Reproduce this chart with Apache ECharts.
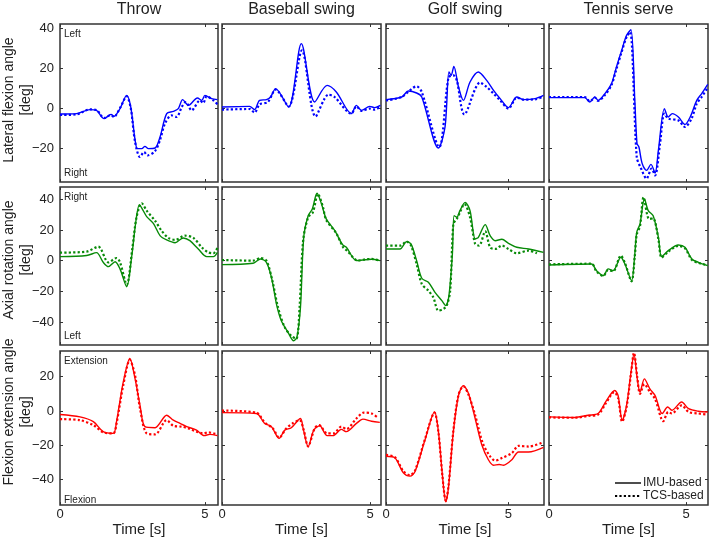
<!DOCTYPE html>
<html><head><meta charset="utf-8">
<script src="https://cdn.jsdelivr.net/npm/echarts@6/dist/echarts.min.js"></script>
<style>html,body{margin:0;padding:0;background:#fff}#c{width:709px;height:538px}</style>
</head><body><div id="c"></div>
<script>
const colTitles = ['Throw','Baseball swing','Golf swing','Tennis serve'];
const rowNames = ['Lateral flexion angle','Axial rotation angle','Flexion extension angle'];
const rowTopNote = ['Left','Right','Extension'];
const rowBottomNote = ['Right','Left','Flexion'];
const legendNames = ['IMU-based','TCS-based'];
const xMax = [5.45,5.37,6.45,5.8];
const yMin = [-37,-55,-55];
const yMax = [42,48,35];
const yTicks = [[-20,0,20,40],[-40,-20,0,20,40],[-40,-20,0,20]];
const xTicks = [0,5];
const rowColors = ['#0000ff','#078a07','#ff0000'];

// Row 1: lateral flexion
const throwLatIMU = [[0,-3],[0.57,-2.8],[1.03,-0.8],[1.26,-1.2],[1.52,-5.3],[1.76,-3.2],[1.86,-4.2],[2.07,-0.3],[2.30,6.3],[2.44,0.5],[2.59,-16],[2.67,-20.3],[2.82,-20.3],[2.93,-19.2],[3.05,-20.3],[3.28,-20],[3.45,-14.5],[3.68,-2.8],[3.91,-1.7],[4.08,-0.3],[4.23,4.2],[4.43,1.3],[4.74,5],[4.89,3.8],[5.0,6.3],[5.23,4.7],[5.43,4.2]];
const throwLatTCS = [[0,-3.5],[0.57,-3.2],[1.03,-0.7],[1.26,-1],[1.52,-5],[1.76,-3.5],[1.86,-4.5],[2.07,0],[2.30,5.8],[2.44,0],[2.59,-17],[2.76,-24.5],[2.9,-22],[3.02,-23.7],[3.28,-21.5],[3.45,-16],[3.62,-7.8],[3.85,-3.7],[4.02,-4.5],[4.2,0.5],[4.34,3],[4.54,-1.2],[4.83,3.8],[4.94,2.5],[5.06,5.8],[5.29,3.8],[5.43,1.8]];
const baseLatIMU = [[0,0.5],[0.93,0.8],[1.1,-0.8],[1.27,3.8],[1.5,4.2],[1.64,5.5],[1.81,9.7],[2.25,0.5],[2.68,32.2],[3.13,3],[3.55,11.3],[3.86,8],[4.37,-2.8],[4.54,1.3],[4.71,-1.2],[4.99,0.8],[5.16,0.2],[5.35,1.3]];
const baseLatTCS = [[0,-0.8],[0.93,-0.5],[1.1,-2.3],[1.27,1.8],[1.55,3],[1.81,9.2],[2.25,0.8],[2.7,28.8],[3.16,-4.2],[3.6,6.7],[3.8,5.5],[4.37,-2.8],[4.54,0.8],[4.71,-1.5],[4.99,-0.3],[5.16,-0.8],[5.35,0.8]];
const golfLatIMU = [[0,4.2],[0.64,5.5],[0.91,8.5],[1.25,7.5],[1.46,5.5],[2.14,-20],[2.41,-9.5],[2.57,18],[2.66,16.3],[2.77,20.8],[2.96,10.5],[3.16,3.8],[3.43,13],[3.77,18],[4.11,13.8],[4.39,8.8],[4.66,4.7],[5.0,0.2],[5.34,5.5],[5.61,4.2],[6.09,4.7],[6.43,6.3]];
const golfLatTCS = [[0,3.8],[0.64,5.5],[1.25,10.8],[1.46,8],[2.17,-19.5],[2.55,15.2],[2.75,16.3],[2.89,13.8],[3.2,-3.2],[3.84,12.7],[4.11,10.5],[4.39,7.2],[4.66,3.8],[5.0,-0.3],[5.34,5.2],[5.61,4.2],[6.09,4.3],[6.43,5.8]];
const tennisLatIMU = [[0,5.2],[1.3,5.2],[1.49,3],[1.67,5.5],[1.79,3.8],[2.04,7.2],[2.28,12.2],[2.46,20.5],[2.65,28.8],[2.83,36.3],[2.99,39.2],[3.13,3.8],[3.21,-17.8],[3.28,-19.5],[3.4,-27.8],[3.56,-31.2],[3.72,-28.2],[3.87,-32.5],[3.99,-21.2],[4.21,-0.3],[4.35,-4.5],[4.5,-2.8],[4.72,-4.5],[4.96,-8.2],[5.15,-4.5],[5.39,3.8],[5.57,7.2],[5.79,11.8]];
const tennisLatTCS = [[0,5.5],[1.3,5.5],[1.49,3.3],[1.67,5.2],[1.79,3.5],[2.04,6.5],[2.28,11.5],[2.46,19.5],[2.65,28],[2.83,35.5],[2.96,38],[3.2,-24.5],[3.35,-30],[3.56,-35.3],[3.74,-30.3],[3.87,-33.7],[4.05,-17.8],[4.21,-2.8],[4.35,-5.3],[4.72,-6.2],[4.96,-9.5],[5.2,-5.3],[5.39,2.2],[5.57,5.5],[5.79,10.2]];

// Row 2: axial rotation
const throwAxIMU = [[0,2.6],[0.92,3.3],[1.26,5.2],[1.49,-1.1],[1.67,-3.9],[1.9,-0.7],[2.07,-5.4],[2.3,-17],[2.47,2.2],[2.62,26],[2.74,36.5],[2.87,32.6],[2.99,28.7],[3.22,24.3],[3.45,16.3],[3.68,13.5],[3.97,11.7],[4.25,14.8],[4.48,13],[4.77,7.6],[5.06,2.6],[5.29,2.6],[5.43,5.4]];
const throwAxTCS = [[0,5.2],[0.92,5.9],[1.32,9.1],[1.67,-1.1],[1.95,1.7],[2.07,-1],[2.3,-15.7],[2.5,8.7],[2.64,28.3],[2.82,37.4],[2.99,32.6],[3.28,26],[3.5,19.6],[3.74,14.8],[3.97,13.5],[4.31,16.3],[4.6,14.8],[4.89,8.7],[5.11,5.4],[5.29,4.8],[5.43,8.3]];
const baseAxIMU = [[0,-2.6],[1.05,-1.7],[1.3,1.1],[1.5,-1.1],[1.67,-10.9],[1.84,-28.3],[2.0,-39],[2.23,-46.7],[2.42,-52.2],[2.53,-50],[2.65,-30.4],[2.76,15.2],[2.91,29.3],[3.05,33.7],[3.21,43.9],[3.36,37],[3.52,27.2],[3.81,19.6],[4.07,10.4],[4.2,8.7],[4.54,0],[4.76,0.4],[5.05,0.9],[5.33,0]];
const baseAxTCS = [[0,0.4],[1.05,0],[1.3,1.7],[1.5,0],[1.7,-13],[1.89,-30.4],[2.12,-43.5],[2.34,-49],[2.51,-51],[2.62,-30.4],[2.74,13],[2.91,28.3],[3.07,31.5],[3.24,43.5],[3.41,34.8],[3.52,26.5],[3.86,17.8],[4.09,8.7],[4.22,6.5],[4.6,0],[4.8,0.7],[5.05,1.1],[5.33,0]];
const golfAxIMU = [[0,7.6],[0.57,7.6],[0.84,12.4],[1.02,10.9],[1.25,0],[1.46,-11.5],[1.73,-14.1],[2.0,-20.7],[2.28,-26.1],[2.44,-29.3],[2.57,-22.8],[2.71,4.3],[2.78,29.3],[2.89,28.3],[3.02,32.6],[3.23,38],[3.43,32.6],[3.64,14.1],[3.77,15.2],[4.05,23.5],[4.25,16.3],[4.46,13],[4.73,13.9],[5.0,11.3],[5.34,8.7],[5.82,7.6],[6.43,5.4]];
const golfAxTCS = [[0,9.8],[0.57,9.8],[0.84,12.4],[1.02,9.8],[1.25,-2.2],[1.46,-15.2],[1.73,-19.6],[1.93,-23.9],[2.14,-32.6],[2.34,-31.5],[2.48,-29.3],[2.62,-19.6],[2.75,23.9],[2.89,27.2],[3.02,31.5],[3.2,37],[3.43,28.3],[3.64,10.9],[3.8,9.8],[4.05,19.1],[4.25,8.7],[4.46,7.6],[4.73,9.8],[5.0,7.6],[5.34,4.8],[5.82,6.5],[6.16,4.8]];
const tennisAxIMU = [[0,-2.8],[1.55,-2.2],[1.73,-6.5],[1.98,-9.8],[2.16,-5.4],[2.34,-6.5],[2.62,2.2],[2.77,-2.2],[3.01,-13],[3.13,4.3],[3.2,18.5],[3.32,23.9],[3.48,40.2],[3.62,32.6],[3.8,29.3],[3.99,15.2],[4.11,2.6],[4.35,6.5],[4.72,10.2],[4.96,8.7],[5.21,1.1],[5.45,-1.1],[5.79,-3.3]];
const tennisAxTCS = [[0,-2.4],[1.55,-2],[1.73,-7],[1.98,-10],[2.16,-6],[2.34,-7],[2.62,3.3],[2.77,-1.5],[3.01,-13.5],[3.13,3],[3.2,17],[3.32,22.5],[3.45,41.3],[3.65,27.2],[3.8,27.5],[3.99,14],[4.11,2],[4.35,5.8],[4.72,9.6],[4.96,8],[5.21,0.5],[5.45,-1.5],[5.79,-3]];

// Row 3: flexion extension
const throwFlexIMU = [[0,-2.1],[0.69,-3.5],[1.15,-6.3],[1.49,-12.1],[1.84,-13.1],[1.95,-6.3],[2.18,16.7],[2.41,30.6],[2.59,18.7],[2.76,3.3],[2.93,-9.2],[3.28,-9.8],[3.68,-2.5],[3.91,-5.4],[4.14,-7.3],[4.37,-9.2],[4.71,-11.2],[4.97,-14.4],[5.17,-13.7],[5.43,-14.4]];
const throwFlexTCS = [[0,-4.8],[0.69,-5.4],[1.15,-8.3],[1.49,-12.5],[1.84,-13.1],[1.95,-7.3],[2.18,14.8],[2.41,29.8],[2.59,20.6],[2.76,1.4],[2.99,-13.1],[3.28,-13.7],[3.68,-5.4],[3.91,-8.7],[4.2,-9.2],[4.43,-10.2],[4.71,-12.1],[4.94,-13.1],[5.11,-12.5],[5.34,-13.3],[5.43,-14]];
const baseFlexIMU = [[0,-1],[1.16,-1.5],[1.44,-7.3],[1.67,-9.2],[1.93,-16],[2.12,-11.2],[2.34,-9.8],[2.65,-4.4],[2.74,-10.2],[2.91,-20.8],[3.1,-11.2],[3.3,-8.7],[3.55,-14.4],[3.75,-14.4],[4.03,-10.8],[4.2,-12.1],[4.54,-7.3],[4.76,-4.8],[5.05,-6],[5.33,-6.7]];
const baseFlexTCS = [[0,0.2],[1.16,-1],[1.44,-6.7],[1.72,-10.2],[1.93,-15.6],[2.17,-10.2],[2.38,-7.3],[2.62,-5.4],[2.76,-11.2],[2.91,-20.8],[3.13,-10.2],[3.28,-8.3],[3.55,-13.1],[3.77,-13.1],[4.03,-9.2],[4.2,-10.6],[4.54,-4.4],[4.79,-1],[5.05,-1.5],[5.27,-4]];
const golfFlexIMU = [[0,-26.5],[0.37,-27.5],[0.71,-36.2],[0.98,-38.1],[1.19,-35.2],[1.59,-17],[1.98,-0.6],[2.14,-12.1],[2.3,-37.1],[2.44,-53.1],[2.55,-44.8],[2.75,-12.1],[2.96,9],[3.16,14.8],[3.37,10],[3.64,-4.4],[3.91,-19.8],[4.18,-28.5],[4.39,-31.7],[4.62,-31.3],[4.8,-31.7],[5.14,-28.5],[5.41,-24],[5.82,-24],[6.43,-21.3]];
const golfFlexTCS = [[0,-25.6],[0.37,-27.1],[0.71,-35.2],[0.98,-37.5],[1.19,-34.6],[1.59,-16.5],[1.98,-1],[2.14,-12.5],[2.3,-37.5],[2.44,-52.5],[2.55,-44],[2.75,-11.5],[2.96,9.4],[3.16,14.4],[3.37,9.4],[3.64,-2.5],[3.95,-18.8],[4.25,-26.5],[4.46,-29],[4.73,-27.5],[5.14,-24.6],[5.41,-20.4],[5.82,-20.8],[6.43,-18.3]];
const tennisFlexIMU = [[0,-3.5],[0.94,-3.8],[1.43,-2.5],[1.79,-1.5],[2.1,6.2],[2.4,11.9],[2.52,9],[2.67,-5.4],[2.83,3.3],[2.99,22.5],[3.1,33.1],[3.22,18.7],[3.32,11],[3.48,18.7],[3.68,12.9],[3.87,9],[4.13,-1.5],[4.33,2.3],[4.48,0.4],[4.84,5.2],[5.09,1.3],[5.45,-0.2],[5.79,-0.6]];
const tennisFlexTCS = [[0,-3.8],[0.94,-4],[1.43,-2.9],[1.79,-2.1],[2.1,5.2],[2.38,11],[2.52,7.5],[2.67,-6.3],[2.83,2.3],[2.99,21.5],[3.1,34],[3.22,19.6],[3.32,10],[3.48,15.6],[3.68,11],[3.87,7],[4.17,-6],[4.35,-0.6],[4.48,-1.5],[4.84,3.3],[5.09,-0.6],[5.45,-1.5],[5.79,-2.1]];

const panelIMU = [
  [throwLatIMU, baseLatIMU, golfLatIMU, tennisLatIMU],
  [throwAxIMU, baseAxIMU, golfAxIMU, tennisAxIMU],
  [throwFlexIMU, baseFlexIMU, golfFlexIMU, tennisFlexIMU]
];
const panelTCS = [
  [throwLatTCS, baseLatTCS, golfLatTCS, tennisLatTCS],
  [throwAxTCS, baseAxTCS, golfAxTCS, tennisAxTCS],
  [throwFlexTCS, baseFlexTCS, golfFlexTCS, tennisFlexTCS]
];

const FONT = "'Liberation Sans', Arial, Helvetica, sans-serif";
const TXT = '#222';
const colLeft = [60, 222, 386, 549];
const colWidth = [158, 159, 158, 159];
const rowTop = [24, 187, 351];
const rowH = 158;
const fmt = v => (v < 0 ? '\u2212' + Math.abs(v) : String(v));

const grids = [], xAxes = [], yAxes = [], series = [], graphics = [];
for (let r = 0; r < 3; r++) {
  for (let c = 0; c < 4; c++) {
    const g = r * 4 + c;
    grids.push({left: colLeft[c], top: rowTop[r], width: colWidth[c], height: rowH,
      show: true, borderColor: '#333', borderWidth: 1.5, backgroundColor: 'transparent', containLabel: false});
    const tick = {show: true, inside: true, length: 3, lineStyle: {color: '#333', width: 1}};
    const line = {show: false, onZero: false};
    xAxes.push({type: 'value', gridIndex: g, position: 'bottom', min: 0, max: xMax[c],
      axisLine: line, splitLine: {show: false},
      axisTick: Object.assign({customValues: xTicks}, tick),
      axisLabel: {show: r === 2, customValues: xTicks, margin: 3, fontSize: 13, color: TXT, fontFamily: FONT},
      name: r === 2 ? 'Time [s]' : '', nameLocation: 'middle', nameGap: 12,
      nameTextStyle: {fontSize: 15, color: TXT, fontFamily: FONT}});
    xAxes.push({type: 'value', gridIndex: g, position: 'top', min: 0, max: xMax[c],
      axisLine: line, splitLine: {show: false},
      axisTick: Object.assign({customValues: xTicks}, tick), axisLabel: {show: false}});
    yAxes.push({type: 'value', gridIndex: g, position: 'left', min: yMin[r], max: yMax[r],
      axisLine: line, splitLine: {show: false},
      axisTick: Object.assign({customValues: yTicks[r]}, tick),
      axisLabel: {show: c === 0, customValues: yTicks[r], margin: 6, fontSize: 13, color: TXT, fontFamily: FONT, formatter: fmt}});
    yAxes.push({type: 'value', gridIndex: g, position: 'right', min: yMin[r], max: yMax[r],
      axisLine: line, splitLine: {show: false},
      axisTick: Object.assign({customValues: yTicks[r]}, tick), axisLabel: {show: false}});
    series.push({name: legendNames[0], type: 'line', xAxisIndex: g * 2, yAxisIndex: g * 2,
      data: panelIMU[r][c], symbol: 'none', showSymbol: false, smooth: 0.3,
      lineStyle: {color: rowColors[r], width: 1.4}, itemStyle: {color: rowColors[r]}, z: 3});
    series.push({name: legendNames[1], type: 'line', xAxisIndex: g * 2, yAxisIndex: g * 2,
      data: panelTCS[r][c], symbol: 'none', showSymbol: false, smooth: 0.3,
      lineStyle: {color: rowColors[r], width: 2.2, type: 'dotted'}, itemStyle: {color: rowColors[r]}, z: 2});
  }
}
// column titles
for (let c = 0; c < 4; c++) {
  graphics.push({type: 'text', x: colLeft[c] + colWidth[c] / 2, y: 10,
    style: {text: colTitles[c], font: '16px ' + FONT, fill: TXT, textAlign: 'center', textVerticalAlign: 'middle'}});
}
// row names and direction notes
const rowNameCenter = [100, 260, 412];
for (let r = 0; r < 3; r++) {
  graphics.push({type: 'text', x: 17.5, y: rowNameCenter[r], rotation: Math.PI / 2,
    style: {text: rowNames[r] + '\n[deg]', font: '14px ' + FONT, fill: TXT, textAlign: 'center', textVerticalAlign: 'middle', lineHeight: 17}});
  graphics.push({type: 'text', x: 64, y: rowTop[r] + 10,
    style: {text: rowTopNote[r], font: '10px ' + FONT, fill: TXT, textAlign: 'left', textVerticalAlign: 'middle'}});
  graphics.push({type: 'text', x: 64, y: rowTop[r] + rowH - 9,
    style: {text: rowBottomNote[r], font: '10px ' + FONT, fill: TXT, textAlign: 'left', textVerticalAlign: 'middle'}});
}
// legend (black key lines)
const legY = [483, 496];
const legDash = [null, [2.2, 2.2]];
const legW = [1.4, 2.2];
for (let i = 0; i < 2; i++) {
  graphics.push({type: 'line', shape: {x1: 615, y1: legY[i], x2: 641, y2: legY[i]},
    style: {stroke: '#000', lineWidth: legW[i], lineDash: legDash[i]}});
  graphics.push({type: 'text', x: 643, y: legY[i],
    style: {text: legendNames[i], font: '12px ' + FONT, fill: TXT, textAlign: 'left', textVerticalAlign: 'middle'}});
}

const chart = echarts.init(document.getElementById('c'), null, {renderer: 'canvas'});
chart.setOption({
  animation: false,
  backgroundColor: '#fff',
  grid: grids, xAxis: xAxes, yAxis: yAxes, series: series,
  graphic: graphics
});
</script></body></html>
